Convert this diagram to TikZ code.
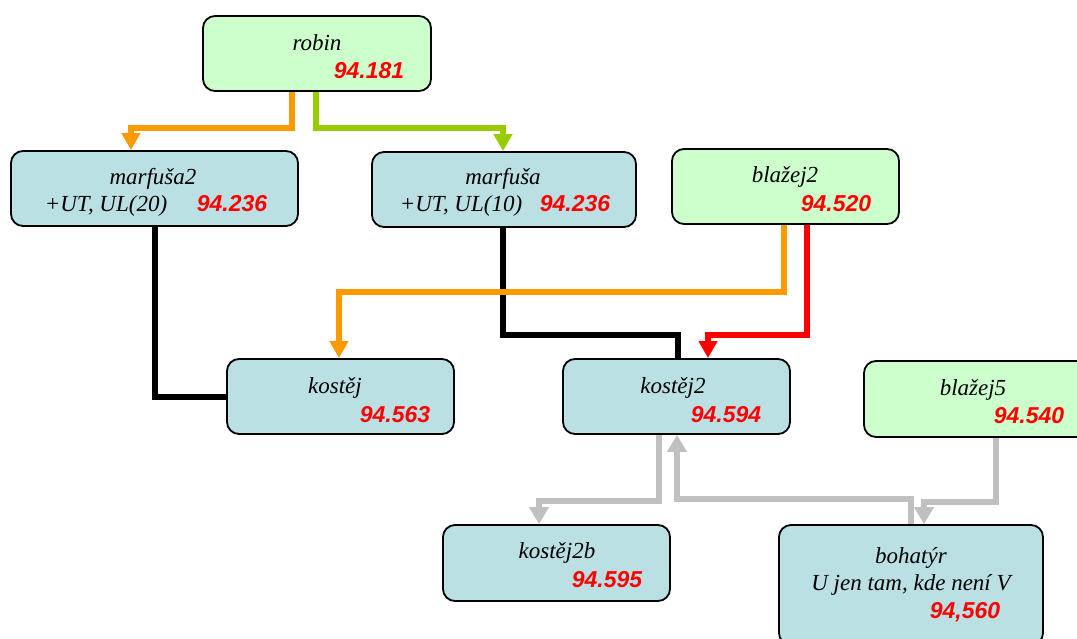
\documentclass[tikz,border=0pt]{standalone}
\usepackage{fontspec}
\setmainfont{Liberation Serif}
\newfontfamily\numfam{Liberation Sans}
\usetikzlibrary{arrows.meta}
\definecolor{boxgreen}{HTML}{CCFFCC}
\definecolor{boxblue}{HTML}{BBE0E3}
\definecolor{lnorange}{HTML}{FF9900}
\definecolor{lngreen}{HTML}{99CC00}
\definecolor{lngray}{HTML}{C0C0C0}
\tikzset{
  box/.style={draw=black, line width=1.8pt, rounded corners=12pt, inner sep=0pt},
  gbox/.style={box, fill=boxgreen},
  bbox/.style={box, fill=boxblue},
  lbl/.style={font=\fontsize{23}{27}\selectfont\itshape, anchor=base, inner sep=0pt},
  num/.style={font=\fontsize{23}{27}\selectfont\numfam\bfseries\itshape, text=red, anchor=base, inner sep=0pt},
  conn/.style={line width=6.5pt},
  tip/.style={-{Triangle[width=18pt,length=17pt]}},
  gtip/.style={-{Triangle[width=19pt,length=17pt]}},
  orangeline/.style={conn, draw=lnorange},
  greenline/.style={conn, draw=lngreen},
  blackline/.style={conn, line width=6pt, draw=black},
  redline/.style={conn, draw=red},
  grayline/.style={conn, line width=6.5pt, draw=lngray}
}
\begin{document}
\begin{tikzpicture}[x=1pt,y=-1pt]
\useasboundingbox (0,0) rectangle (1077,639);
\fill[white] (0,0) rectangle (1077,639);
\clip (0,0) rectangle (1077,639);

% boxes
\node[gbox, minimum width=228pt, minimum height=75pt] (robin) at (317,53.5) {};
\node[bbox, minimum width=287pt, minimum height=75pt] (mf2) at (154.5,188.5) {};
\node[bbox, minimum width=264pt, minimum height=75pt] (mf) at (504,189.5) {};
\node[gbox, minimum width=227pt, minimum height=75pt] (bl2) at (785.5,186.5) {};
\node[bbox, minimum width=227pt, minimum height=75pt] (kos) at (340.5,396.5) {};
\node[bbox, minimum width=227pt, minimum height=75pt] (kos2) at (676.5,396.5) {};
\node[gbox, minimum width=227pt, minimum height=76pt] (bl5) at (977.5,399) {};
\node[bbox, minimum width=227pt, minimum height=76pt] (kos2b) at (556.5,563) {};
\node[bbox, minimum width=264pt, minimum height=120pt] (boh) at (911,585) {};

% texts
\node[lbl] (robinT) at (317,51) {robin};
\node[num] (robinN) at (369,79) {94.181};
\node[lbl] (mf2T) at (153,185) {marfuša2};
\node[lbl] (mf2U) at (106,212) {+UT, UL(20)};
\node[num] (mf2N) at (232,212) {94.236};
\node[lbl] (mfT) at (503,185) {marfuša};
\node[lbl] (mfU) at (461,212) {+UT, UL(10)};
\node[num] (mfN) at (575,212) {94.236};
\node[lbl] (bl2T) at (785,183) {blažej2};
\node[num] (bl2N) at (836,212) {94.520};
\node[lbl] (kosT) at (335,393) {kostěj};
\node[num] (kosN) at (395,422) {94.563};
\node[lbl] (kos2T) at (673,393) {kostěj2};
\node[num] (kos2N) at (726,422) {94.594};
\node[lbl] (bl5T) at (973,395) {blažej5};
\node[num] (bl5N) at (1029,423) {94.540};
\node[lbl] (kos2bT) at (557,558) {kostěj2b};
\node[num] (kos2bN) at (607,587) {94.595};
\node[lbl] (bohT) at (911,563) {bohatýr};
\node[lbl] (bohU) at (911,590) {U jen tam, kde není V};
\node[num] (bohN) at (965,618) {94,560};

% connectors
\draw[orangeline, tip] ([xshift=-25pt]robin.south) -- ++(0,36) -| ([xshift=-23.5pt]mf2.north);
\draw[greenline, tip] ([xshift=-1pt]robin.south) -- ++(0,36) -| ([xshift=-1pt]mf.north);
\draw[blackline] (mf2.south) |- (kos.west);
\draw[blackline] ([xshift=-1pt]mf.south) -- ++(0,107) -| ([xshift=1.5pt]kos2.north);
\draw[orangeline, tip] ([xshift=-1.5pt]bl2.south) -- ++(0,67) -| ([xshift=-1.5pt]kos.north);
\draw[redline, tip] ([xshift=21.5pt]bl2.south) -- ++(0,110) -| ([xshift=31.5pt]kos2.north);
\draw[grayline, gtip] ([xshift=-17.5pt]kos2.south) -- ++(0,66) -| ([xshift=-17.5pt]kos2b.north);
\draw[grayline, gtip] (boh.north) -- ++(0,-25) -| ([xshift=0.5pt]kos2.south);
\draw[grayline, gtip] ([xshift=18.5pt]bl5.south) -- ++(0,64) -| ([xshift=13pt]boh.north);
\end{tikzpicture}
\end{document}
